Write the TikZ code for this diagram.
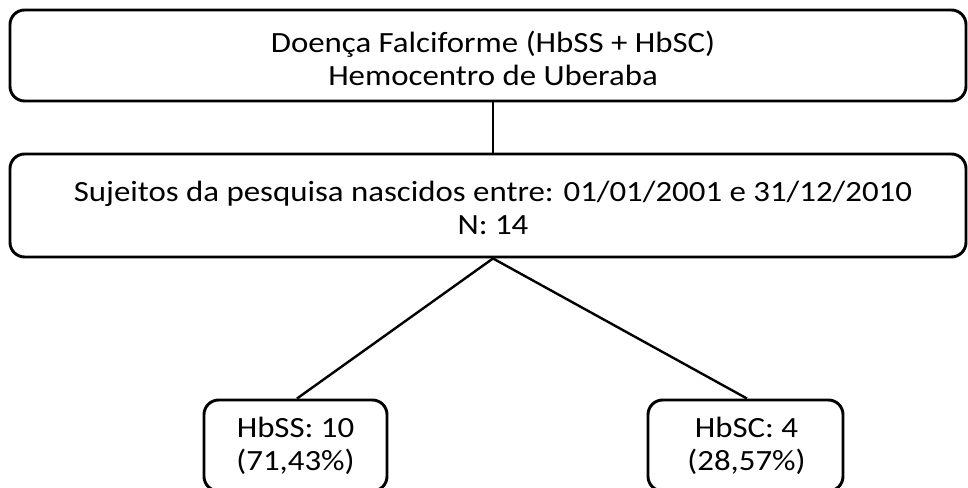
\documentclass[tikz,border=0pt]{standalone}
\usepackage{fontspec}
\setmainfont{Carlito}[FakeStretch=1.12]
\begin{document}
\begin{tikzpicture}[x=0.75pt,y=-0.75pt,
  box/.style={draw, line width=2.2pt, rounded corners=11pt, inner sep=0pt},
  txt/.style={align=center, inner sep=0pt, font=\fontsize{22}{24.75}\selectfont},
  link/.style={line width=1.8pt}]
\clip (0,0) rectangle (968,488);
\fill[white] (0,0) rectangle (968,488);
% boxes
\node[box, minimum width=717pt, minimum height=68.25pt] (top) at (488,55.5) {};
\node[box, minimum width=717pt, minimum height=77.25pt] (mid) at (488,205.5) {};
\node[box, minimum width=137.25pt, minimum height=68.25pt] (left) at (295.5,445.5) {};
\node[box, minimum width=146.25pt, minimum height=68.25pt] (right) at (745.5,445.5) {};
% texts
\node[txt] (toptext) at (493,58) {Doença Falciforme (HbSS + HbSC)\\Hemocentro de Uberaba};
\node[txt] (midtext) at (493,208) {Sujeitos da pesquisa nascidos entre: 01/01/2001 e 31/12/2010\\N: 14};
\node[txt] (lefttext) at (295.5,446) {HbSS: 10\\(71,43\%)};
\node[txt] (righttext) at (746.5,446) {HbSC: 4\\(28,57\%)};
% connectors
\draw[link] ([xshift=3.75pt]top.south) -- ([xshift=3.75pt]mid.north);
\draw[link] ([xshift=3.75pt]mid.south) -- ([xshift=1.1pt]left.north);
\draw[link] ([xshift=3.75pt]mid.south) -- ([xshift=1.1pt]right.north);
\end{tikzpicture}
\end{document}
